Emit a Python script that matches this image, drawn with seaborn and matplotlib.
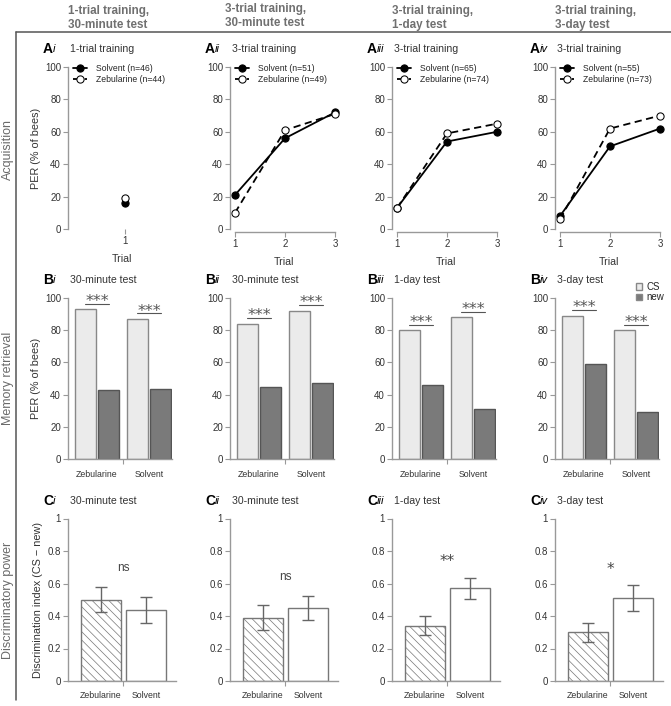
import numpy as np
import pandas as pd
import matplotlib
matplotlib.use('Agg')
import matplotlib.pyplot as plt
from matplotlib.lines import Line2D
import seaborn as sns

# ---- data ----
trials = [1, 2, 3]
acq_solvent = [[16], [21, 56, 72], [13, 54, 60], [8, 51, 62]]
acq_zebularine = [[19], [10, 61, 71], [13, 59, 65], [6, 62, 70]]
n_solvent = [46, 51, 65, 55]
n_zebularine = [44, 49, 74, 73]

groups = ['Zebularine', 'Solvent']
stimuli = ['CS', 'new']
ret_cs = [[93, 87], [84, 92], [80, 88], [89, 80]]      # Zebularine, Solvent
ret_new = [[43, 43.5], [45, 47], [46, 31], [59, 29]]
ret_sig = '***'

di_mean = [[0.50, 0.435], [0.39, 0.45], [0.34, 0.57], [0.30, 0.51]]
di_sem = [[0.077, 0.08], [0.075, 0.072], [0.058, 0.063], [0.057, 0.078]]
di_sig = ['ns', 'ns', '**', '*']

col_headers = ['1-trial training,\n30-minute test', '3-trial training,\n30-minute test',
               '3-trial training,\n1-day test', '3-trial training,\n3-day test']
roman = ['i', 'ii', 'iii', 'iv']
acq_titles = ['1-trial training', '3-trial training', '3-trial training', '3-trial training']
test_titles = ['30-minute test', '30-minute test', '1-day test', '3-day test']
row_labels = ['Acquisition', 'Memory retrieval', 'Discriminatory power']

# ---- style ----
sns.set_style('ticks')
plt.rcParams['font.family'] = ['Liberation Sans', 'DejaVu Sans']
plt.rcParams['hatch.linewidth'] = 0.5
TXT = '#333333'
SPINE = '#999999'

W, H = 671, 706
fig = plt.figure(figsize=(W / 100, H / 100), dpi=100)


def rect(x, top, w, h):
    return [x / W, 1 - (top + h) / H, w / W, h / H]


def style_ax(ax):
    sns.despine(ax=ax)
    for s in ['left', 'bottom']:
        ax.spines[s].set_color(SPINE)
        ax.spines[s].set_linewidth(1)
    ax.tick_params(labelsize=7, length=3.5, width=0.8, color=SPINE, labelcolor=TXT, pad=1.5)


def panel_title(x, y, letter, rn, title):
    fig.text(x - 25 / W, 1 - y / H, letter, fontsize=10, fontweight='bold', va='center', color='black')
    fig.text(x - 25 / W + 10 / W, 1 - y / H, rn, fontsize=8, fontstyle='italic', va='center', color='black')
    fig.text(x + 2 / W, 1 - y / H, title, fontsize=7.6, va='center', color=TXT)


spine_x = [68, 230, 392, 555]

for j, sx in enumerate(spine_x):
    # ---------- row A: acquisition ----------
    ax = fig.add_axes(rect(sx, 67, 108, 162))
    ns = len(acq_solvent[j])
    dfs = pd.DataFrame({'Trial': trials[:ns], 'PER': acq_solvent[j]})
    dfz = pd.DataFrame({'Trial': trials[:ns], 'PER': acq_zebularine[j]})
    sns.lineplot(data=dfs, x='Trial', y='PER', ax=ax, color='black', lw=1.3, marker='o',
                 markersize=5.2, markerfacecolor='black', markeredgecolor='black',
                 label=f'Solvent (n={n_solvent[j]})', clip_on=False)
    sns.lineplot(data=dfz, x='Trial', y='PER', ax=ax, color='black', lw=1.3, marker='o',
                 markersize=5.2, markerfacecolor='white', markeredgecolor='black',
                 linestyle=(0, (4, 2.5)), label=f'Zebularine (n={n_zebularine[j]})', clip_on=False)
    ax.legend(loc='upper left', bbox_to_anchor=(0.03, 1.03), frameon=False, fontsize=6.2,
              handlelength=1.6, handletextpad=1.1, labelspacing=0.2, borderaxespad=0, borderpad=0.2)
    style_ax(ax)
    ax.set_ylim(0, 100)
    ax.set_yticks(range(0, 101, 20))
    ax.spines['left'].set_bounds(0, 100)
    if ns == 1:
        ax.set_xlim(-0.06, 1.94)
        ax.set_xticks([1])
        ax.spines['bottom'].set_visible(False)
    else:
        ax.set_xlim(0.9, 3.06)
        ax.set_xticks(trials)
        ax.spines['bottom'].set_bounds(1, 3)
        ax.spines['bottom'].set_position(('outward', 2))
    ax.set_xlabel('Trial', fontsize=7.6, color=TXT, labelpad=6)
    if j == 0:
        ax.set_ylabel('PER (% of bees)', fontsize=7.8, color=TXT, labelpad=3)
    else:
        ax.set_ylabel('')
    panel_title(sx / W, 49, 'A', roman[j], acq_titles[j])

    # ---------- row B: memory retrieval ----------
    ax = fig.add_axes(rect(sx, 298, 104, 161))
    dfb = pd.DataFrame({'Group': groups * 2,
                        'Stimulus': ['CS'] * 2 + ['new'] * 2,
                        'PER': ret_cs[j] + ret_new[j]})
    sns.barplot(data=dfb, x='Group', y='PER', hue='Stimulus', order=groups, hue_order=stimuli,
                palette={'CS': '#ebebeb', 'new': '#7a7a7a'}, width=0.9, gap=0.1,
                linewidth=1, edgecolor='#888888', errorbar=None, legend=(j == 3), ax=ax, zorder=2)
    for p in ax.patches:
        if p.get_facecolor()[0] < 0.6:
            p.set_edgecolor('#555555')
    # significance bars
    bars = sorted([p for p in ax.patches if p.get_height() > 0], key=lambda p: p.get_x())
    for g in range(2):
        cs_bar, new_bar = bars[2 * g], bars[2 * g + 1]
        x0 = cs_bar.get_x() + cs_bar.get_width() / 2
        x1 = new_bar.get_x() + new_bar.get_width() / 2
        yl = cs_bar.get_height() + 3.5
        ax.plot([x0, x1], [yl, yl], color='#555555', lw=0.8, clip_on=False)
        ax.text((x0 + x1) / 2, yl + 1.4, ret_sig, ha='center', va='center', fontsize=11.5,
                color='#555555', family='DejaVu Sans')
    style_ax(ax)
    ax.set_ylim(0, 100)
    ax.set_yticks(range(0, 101, 20))
    ax.spines['left'].set_bounds(0, 100)
    ax.set_xlim(-0.558, 1.44)
    ax.set_xticks([0, 1])
    ax.set_xticklabels(groups, fontsize=6.3)
    ax.tick_params(axis='x', length=0, pad=8)
    ax.set_xticks([0.5], minor=True)
    ax.tick_params(axis='x', which='minor', length=3.5, width=0.8, color=SPINE)
    ax.set_xlabel('')
    if j == 0:
        ax.set_ylabel('PER (% of bees)', fontsize=7.8, color=TXT, labelpad=3)
    else:
        ax.set_ylabel('')
    if j == 3:
        sns.move_legend(ax, 'upper left', bbox_to_anchor=(0.78, 1.1), title=None, frameon=False,
                        fontsize=7, handlelength=0.6, handleheight=0.6, handletextpad=0.5,
                        labelspacing=0.05, borderaxespad=0, borderpad=0)
    panel_title(sx / W, 280, 'B', roman[j], test_titles[j])

    # ---------- row C: discriminatory power ----------
    ax = fig.add_axes(rect(sx, 518.5, 108, 162.5))
    dfc = pd.DataFrame({'Group': groups, 'DI': di_mean[j], 'SEM': di_sem[j]})
    sns.barplot(data=dfc, x='Group', y='DI', hue='Group', order=groups, hue_order=groups,
                palette={'Zebularine': 'white', 'Solvent': 'white'}, width=0.89,
                linewidth=1, edgecolor='#777777', errorbar=None, legend=False, ax=ax, zorder=2)
    for p in ax.patches:
        if abs(p.get_x() + p.get_width() / 2) < 0.1:
            p.set_hatch('\\\\\\\\')
    ax.errorbar(x=[0, 1], y=dfc['DI'], yerr=dfc['SEM'], fmt='none', ecolor='#666666',
                elinewidth=1, capsize=4.5, capthick=1, zorder=3)
    top = (dfc['DI'] + dfc['SEM']).max()
    off = 0.12 if di_sig[j] == 'ns' else 0.10
    ax.text(0.5, top + off, di_sig[j], ha='center', va='center',
            fontsize=8.5 if di_sig[j] == 'ns' else 11, color='#444444',
            family='DejaVu Sans' if di_sig[j] != 'ns' else None)
    style_ax(ax)
    ax.set_ylim(0, 1)
    ax.set_yticks([0, 0.2, 0.4, 0.6, 0.8, 1])
    ax.set_yticklabels(['0', '0.2', '0.4', '0.6', '0.8', '1'])
    ax.spines['left'].set_bounds(0, 1)
    ax.set_xlim(-0.733, 1.667)
    ax.set_xticks([0, 1])
    ax.set_xticklabels(groups, fontsize=6.3)
    ax.tick_params(axis='x', length=0, pad=7)
    ax.set_xticks([0.5], minor=True)
    ax.tick_params(axis='x', which='minor', length=3.5, width=0.8, color=SPINE)
    ax.set_xlabel('')
    if j == 0:
        ax.set_ylabel('Discrimination index (CS \u2212 new)', fontsize=7.8, color=TXT, labelpad=3)
    else:
        ax.set_ylabel('')
    panel_title(sx / W, 501, 'C', roman[j], test_titles[j])

    # column header
    fig.text((sx if j != 1 else 225) / W, 1 - (18 if j != 1 else 16) / H, col_headers[j], fontsize=8.4,
             fontweight='bold', color='#707070', va='center', ha='left', linespacing=1.15)

# row labels and frame lines
for lab, yc in zip(row_labels, [150, 378, 600]):
    fig.text(8 / W, 1 - yc / H, lab, rotation=90, ha='center', va='center', fontsize=9, color='#6a6a6a')
fig.add_artist(Line2D([16 / W, 1], [1 - 32 / H, 1 - 32 / H], color='#555555', lw=1.1))
fig.add_artist(Line2D([16 / W, 16 / W], [1 - 32 / H, 1 - 700 / H], color='#555555', lw=1.1))

fig.savefig('out.png', dpi=100)
